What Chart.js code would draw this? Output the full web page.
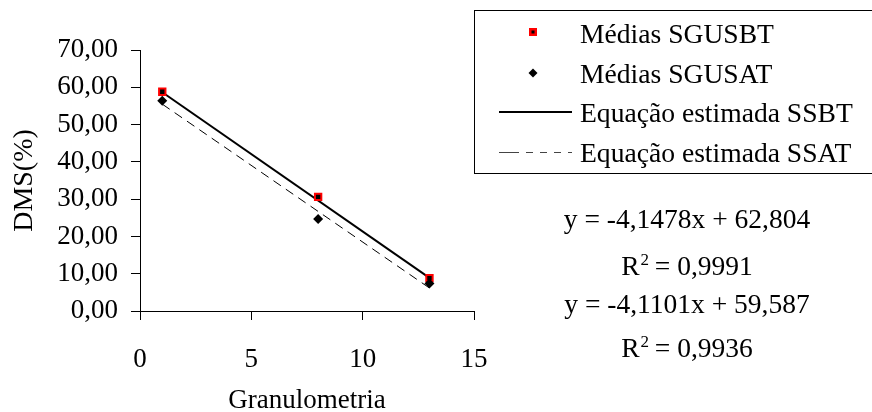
<!DOCTYPE html>
<html lang="pt">
<head>
  <meta charset="UTF-8">
  <title>DMS x Granulometria</title>
  <script src="https://cdn.jsdelivr.net/npm/chart.js"></script>
  <style>
    html, body {
      margin: 0;
      padding: 0;
      background: #ffffff;
    }
    .chart-box {
      width: 872px;
      height: 412px;
    }
  </style>
</head>
<body>

<div class="chart-box">
  <canvas id="dmsChart" width="872" height="412"></canvas>
</div>

<script>
  // granulometria (x) and the mean values
  const granulometria = [1, 8, 13];
  const mediasSGUSBT = [58.8, 30.6, 8.8];
  const mediasSGUSAT = [56.4, 24.7, 7.4];

  // end points of the two fitted lines
  const trendX = [1, 13];
  const trendSSBT = [58.66, 8.88];
  const trendSSAT = [55.48, 6.16];

  const legendLabels = ['Médias SGUSBT', 'Médias SGUSAT', 'Equação estimada SSBT', 'Equação estimada SSAT'];
  const equationLines = [
    { text: 'y = -4,1478x + 62,804' },
    { r2: '0,9991' },
    { text: 'y = -4,1101x + 59,587' },
    { r2: '0,9936' }
  ];

  const FONT = 'Liberation Serif, Times New Roman, serif';

  function toPoints(xs, ys) {
    return xs.map((x, i) => ({ x: x, y: ys[i] }));
  }

  // legend box + equation text, drawn after the chart
  const extrasPlugin = {
    id: 'extras',
    afterDraw(chart) {
      const c = chart.ctx;
      c.save();

      // legend frame
      c.strokeStyle = '#000';
      c.lineWidth = 1;
      c.strokeRect(474.5, 10.5, 420, 163);

      c.font = '27.6px ' + FONT;
      c.fillStyle = '#000';
      c.textAlign = 'left';
      c.textBaseline = 'alphabetic';
      const baselines = [43, 83, 122, 162];
      const symY = [32, 73, 112, 152];
      legendLabels.forEach((lbl, i) => c.fillText(lbl, 580, baselines[i]));

      // markers
      c.fillStyle = '#ff0000';
      c.fillRect(529, 28, 8, 8);
      c.fillStyle = '#000';
      c.fillRect(531.5, 30.5, 3, 3);

      c.beginPath();
      c.moveTo(533, symY[1] - 4.5);
      c.lineTo(537.5, symY[1]);
      c.lineTo(533, symY[1] + 4.5);
      c.lineTo(528.5, symY[1]);
      c.closePath();
      c.fill();

      // line samples
      c.strokeStyle = '#000';
      c.lineWidth = 2;
      c.beginPath();
      c.moveTo(499, symY[2]);
      c.lineTo(572, symY[2]);
      c.stroke();

      c.lineWidth = 1;
      c.strokeStyle = '#444';
      c.setLineDash([20, 7, 7, 7, 7, 7, 7, 7]);
      c.beginPath();
      c.moveTo(499, symY[3] + 0.5);
      c.lineTo(572, symY[3] + 0.5);
      c.stroke();
      c.setLineDash([]);

      // equations
      const cx = 687;
      const eqBase = [228, 275, 313, 357];
      const big = '27.5px ' + FONT;
      const small = '17px ' + FONT;
      c.fillStyle = '#000';
      equationLines.forEach((ln, i) => {
        if (ln.text) {
          c.font = big;
          c.textAlign = 'center';
          c.fillText(ln.text, cx, eqBase[i]);
        } else {
          c.font = big;
          const wR = c.measureText('R').width;
          const rest = ' = ' + ln.r2;
          const wRest = c.measureText(rest).width;
          c.font = small;
          const w2 = c.measureText('2').width;
          const total = wR + w2 + wRest;
          let x = cx - total / 2;
          c.textAlign = 'left';
          c.font = big;
          c.fillText('R', x, eqBase[i]);
          x += wR;
          c.font = small;
          c.fillText('2', x + 1, eqBase[i] - 10);
          x += w2;
          c.font = big;
          c.fillText(rest, x, eqBase[i]);
        }
      });

      c.restore();
    }
  };

  const ctx = document.getElementById('dmsChart').getContext('2d');

  const dmsChart = new Chart(ctx, {
    type: 'scatter',
    data: {
      datasets: [
        {
          label: legendLabels[0],
          data: toPoints(granulometria, mediasSGUSBT),
          pointStyle: 'rect',
          pointRadius: 4.5,
          backgroundColor: '#000',
          borderColor: '#ff0000',
          borderWidth: 2,
          showLine: false,
          order: 1
        },
        {
          label: legendLabels[1],
          data: toPoints(granulometria, mediasSGUSAT),
          pointStyle: 'rectRot',
          pointRadius: 5,
          backgroundColor: '#000',
          borderColor: '#000',
          borderWidth: 0,
          showLine: false,
          order: 0
        },
        {
          label: legendLabels[2],
          data: toPoints(trendX, trendSSBT),
          showLine: true,
          borderColor: '#000',
          borderWidth: 2,
          pointRadius: 0,
          order: 2
        },
        {
          label: legendLabels[3],
          data: toPoints(trendX, trendSSAT),
          showLine: true,
          borderColor: '#000',
          borderWidth: 1,
          borderDash: [9, 6],
          pointRadius: 0,
          order: 3
        }
      ]
    },
    options: {
      responsive: false,
      animation: false,
      devicePixelRatio: 1,
      layout: {
        padding: { top: 50, right: 398, left: 0, bottom: 0 }
      },
      plugins: {
        legend: { display: false },
        tooltip: { enabled: false }
      },
      scales: {
        x: {
          type: 'linear',
          min: 0,
          max: 15,
          afterFit(scale) { scale.height = 101; },
          ticks: {
            stepSize: 5,
            color: '#000',
            padding: 24,
            font: { family: FONT, size: 27 }
          },
          grid: {
            drawOnChartArea: false,
            tickLength: 9,
            color: '#000'
          },
          border: { color: '#000', width: 1 },
          title: {
            display: true,
            text: 'Granulometria',
            color: '#000',
            padding: 4,
            font: { family: FONT, size: 27, lineHeight: 0.5 }
          }
        },
        y: {
          min: 0,
          max: 70,
          afterFit(scale) { scale.width = 140; },
          ticks: {
            stepSize: 10,
            autoSkip: false,
            color: '#000',
            padding: 13,
            font: { family: FONT, size: 27 },
            callback: v => v.toFixed(2).replace('.', ',')
          },
          grid: {
            drawOnChartArea: false,
            tickLength: 9,
            color: '#000'
          },
          border: { color: '#000', width: 1 },
          title: {
            display: true,
            text: 'DMS(%)',
            color: '#000',
            padding: { top: 8, bottom: 8 },
            font: { family: FONT, size: 28 }
          }
        }
      }
    },
    plugins: [extrasPlugin]
  });
</script>
</body>
</html>
